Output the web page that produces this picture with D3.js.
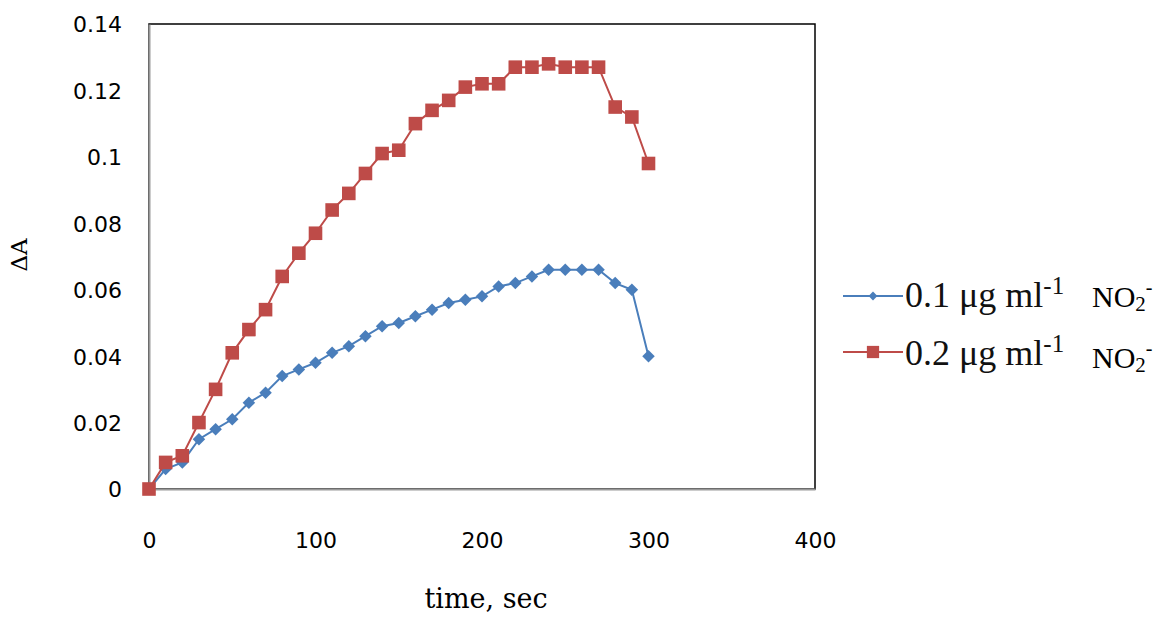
<!DOCTYPE html>
<html>
<head>
<meta charset="utf-8">
<script src="https://cdn.jsdelivr.net/npm/d3@7"></script>
<style>
  body { margin: 0; background: #fff; }
  svg { display: block; }
</style>
</head>
<body>
<div id="chart"></div>
<script>
// tiempos (s)
const tiempos = [0, 10, 20, 30, 40, 50, 60, 70, 80, 90, 100, 110, 120, 130, 140, 150,
  160, 170, 180, 190, 200, 210, 220, 230, 240, 250, 260, 270, 280, 290, 300];
// serie 0.1 ug/ml
const serie01 = [0, 0.006, 0.008, 0.015, 0.018, 0.021, 0.026, 0.029, 0.034, 0.036, 0.038,
  0.041, 0.043, 0.046, 0.049, 0.050, 0.052, 0.054, 0.056, 0.057, 0.058, 0.061, 0.062,
  0.064, 0.066, 0.066, 0.066, 0.066, 0.062, 0.060, 0.040];
// serie 0.2 ug/ml
const serie02 = [0, 0.008, 0.010, 0.020, 0.030, 0.041, 0.048, 0.054, 0.064, 0.071, 0.077,
  0.084, 0.089, 0.095, 0.101, 0.102, 0.110, 0.114, 0.117, 0.121, 0.122, 0.122, 0.127,
  0.127, 0.128, 0.127, 0.127, 0.127, 0.115, 0.112, 0.098];
const ticksX = [0, 100, 200, 300, 400];
const ticksY = [0, 0.02, 0.04, 0.06, 0.08, 0.1, 0.12, 0.14];
const etiquetas = ["0.1 μg ml", "0.2 μg ml"];

const ancho = 1161, alto = 618;
const margen = { left: 149, right: 346, top: 24, bottom: 129 };
const serif = "DejaVu Serif, serif";
const times = "Liberation Serif, Times New Roman, serif";
const sans = "DejaVu Sans, Verdana, sans-serif";

const svg = d3.select("#chart").append("svg")
  .attr("width", ancho).attr("height", alto);

const escalaX = d3.scaleLinear().domain([0, 400]).range([margen.left, ancho - margen.right]);
const escalaY = d3.scaleLinear().domain([0, 0.14]).range([alto - margen.bottom, margen.top]);

// marco
svg.append("rect")
  .attr("x", escalaX(0)).attr("y", escalaY(0.14))
  .attr("width", escalaX(400) - escalaX(0))
  .attr("height", escalaY(0) - escalaY(0.14))
  .attr("fill", "none").attr("stroke", "#000").attr("stroke-width", 1.5);

// ejes
const ejeX = svg.append("g")
  .attr("transform", `translate(0, ${escalaY(0)})`)
  .call(d3.axisBottom(escalaX).tickValues(ticksX).tickSize(0).tickPadding(59));
const ejeY = svg.append("g")
  .attr("transform", `translate(${escalaX(0)}, 0)`)
  .call(d3.axisLeft(escalaY).tickValues(ticksY).tickSize(0).tickPadding(27)
    .tickFormat(d => d === 0 ? "0" : String(+d.toFixed(2))));
[ejeX, ejeY].forEach(g => {
  g.attr("font-family", sans).attr("font-size", 22);
  g.select(".domain").attr("stroke", "#999").attr("stroke-width", 2);
  g.selectAll("text").attr("fill", "#000");
});
ejeX.selectAll("text").attr("dy", "0");
ejeY.selectAll("text").attr("dy", "0.36em");

// titulos de ejes
svg.append("text")
  .attr("x", 486).attr("y", 608)
  .attr("text-anchor", "middle")
  .attr("font-family", serif)
  .attr("font-size", 27).attr("fill", "#000")
  .text("time, sec");
svg.append("text")
  .attr("transform", "translate(27, 255) rotate(-90)")
  .attr("text-anchor", "middle")
  .attr("font-family", serif)
  .attr("font-size", 23).attr("fill", "#000")
  .text("ΔA");

const rombo = d3.symbolDiamond2 || d3.symbolDiamond;
const series = [
  { valores: serie01, color: "#4A7EBB", marca: rombo, tam: 100, tamLey: 50, etiqueta: etiquetas[0] },
  { valores: serie02, color: "#BE4B48", marca: d3.symbolSquare, tam: 185, tamLey: 150, etiqueta: etiquetas[1] }
];

const linea = d3.line()
  .x(d => escalaX(d.t))
  .y(d => escalaY(d.v));

series.forEach(s => {
  const puntos = tiempos.map((t, i) => ({ t: t, v: s.valores[i] }));
  svg.append("path")
    .datum(puntos)
    .attr("d", linea)
    .attr("fill", "none")
    .attr("stroke", s.color)
    .attr("stroke-width", 2);
  svg.append("g").selectAll("path")
    .data(puntos)
    .join("path")
    .attr("transform", d => `translate(${escalaX(d.t)}, ${escalaY(d.v)})`)
    .attr("d", d3.symbol().type(s.marca).size(s.tam))
    .attr("fill", s.color);
});

// leyenda
const leyenda = svg.append("g");
series.forEach((s, i) => {
  const y = 296 + i * 56;
  const g = leyenda.append("g").attr("transform", `translate(843, ${y})`);
  g.append("line").attr("x1", 0).attr("x2", 60).attr("y1", 0).attr("y2", 0)
    .attr("stroke", s.color).attr("stroke-width", 2);
  g.append("path").attr("transform", "translate(30, 0)")
    .attr("d", d3.symbol().type(s.marca).size(s.tamLey)).attr("fill", s.color);
  const txt = g.append("text")
    .attr("x", 62).attr("y", 11 + i * 2)
    .attr("font-family", times)
    .attr("font-size", 36).attr("fill", "#111");
  txt.append("tspan").text(s.etiqueta);
  txt.append("tspan").attr("dy", -13).attr("font-size", 25).text("-1");
  const no2 = g.append("text")
    .attr("x", 249).attr("y", 11 + i * 5)
    .attr("font-family", times)
    .attr("font-size", 30).attr("fill", "#000");
  no2.append("tspan").text("NO");
  no2.append("tspan").attr("dy", 4).attr("font-size", 21).text("2");
  no2.append("tspan").attr("dy", -17).attr("font-size", 20).text("-");
});
</script>
</body>
</html>
